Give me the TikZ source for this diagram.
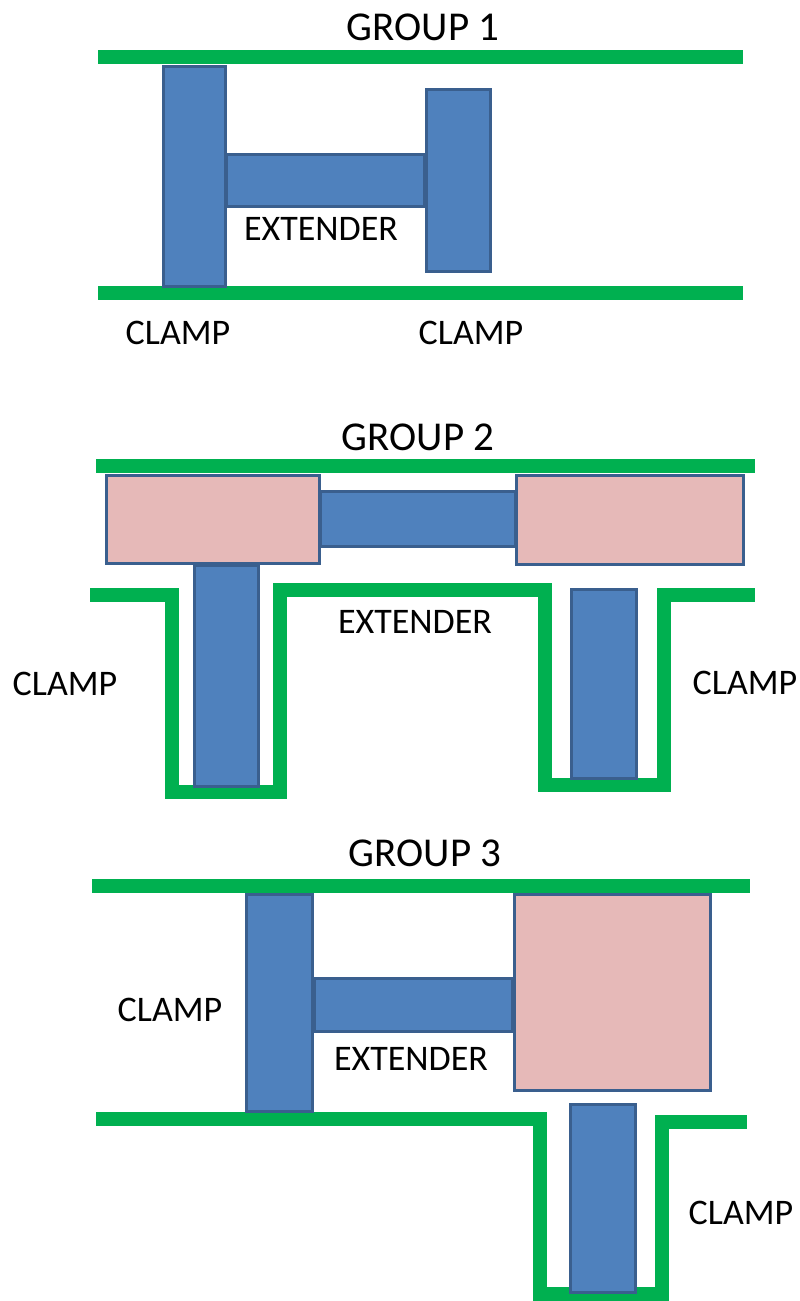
\documentclass[tikz,border=0pt]{standalone}
\usepackage{fontspec}
\setmainfont{Carlito}
\definecolor{rail}{HTML}{00B050}
\definecolor{partfill}{HTML}{4F81BD}
\definecolor{partedge}{HTML}{3A5F8E}
\definecolor{padfill}{HTML}{E6B9B8}
\tikzset{
  rail/.style={draw=rail, line width=14pt, line join=miter},
  part/.style={fill=partfill, draw=partedge, line width=3pt},
  pad/.style={fill=padfill, draw=partedge, line width=3pt},
  title/.style={inner sep=0pt, font=\fontsize{41}{45}\selectfont},
  label/.style={inner sep=0pt, font=\fontsize{36}{40}\selectfont},
}
\begin{document}
\begin{tikzpicture}[x=1pt, y=-1pt]
\useasboundingbox (0,0) rectangle (800,1301);

% ---------- group 1: two straight rails ----------
\node[title] (t1) at (423,27) {GROUP 1};
\draw[rail] (98,57) -- (743,57);
\draw[rail] (98,293) -- (743,293);
\draw[part] (163.5,66) rectangle (225.5,286);
\draw[part] (226,154.5) rectangle (424,206.5);
\draw[part] (426.5,89.5) rectangle (490.5,271.5);
\node[label] (e1) at (321,229) {EXTENDER};
\node[label] (c1a) at (178,333) {CLAMP};
\node[label] (c1b) at (471,333) {CLAMP};

% ---------- group 2: two pads, lower rail with two pockets ----------
\node[title] (t2) at (418,437) {GROUP 2};
\draw[rail] (96,466) -- (755,466);
\draw[rail] (90,595) -- (172,595) -- (172,792) -- (280,792) -- (280,590)
  -- (545,590) -- (545,785) -- (664,785) -- (664,595) -- (755,595);
\draw[pad] (106.5,475.5) rectangle (319.5,563.5);
\draw[pad] (516.5,475.5) rectangle (743.5,564.5);
\draw[part] (320,491.5) rectangle (515,546.5);
\draw[part] (194.5,565) rectangle (258.5,786);
\draw[part] (571.5,589.5) rectangle (636.5,778.5);
\node[label] (e2) at (415,622) {EXTENDER};
\node[label] (c2a) at (65,684) {CLAMP};
\node[label] (c2b) at (745,683) {CLAMP};

% ---------- group 3: one pad, lower rail with one pocket ----------
\node[title] (t3) at (425,853) {GROUP 3};
\draw[rail] (92,886) -- (750,886);
\draw[rail] (96,1119) -- (540,1119) -- (540,1294) -- (662,1294) -- (662,1122) -- (747,1122);
\draw[part] (246.5,894.5) rectangle (312.5,1111);
\draw[part] (314,978.5) rectangle (512,1031.5);
\draw[pad] (514.5,894.5) rectangle (710.5,1090.5);
\draw[part] (570.5,1104.5) rectangle (635.5,1292);
\node[label] (c3a) at (170,1010) {CLAMP};
\node[label] (e3) at (411,1059) {EXTENDER};
\node[label] (c3b) at (741,1213) {CLAMP};
\end{tikzpicture}
\end{document}
